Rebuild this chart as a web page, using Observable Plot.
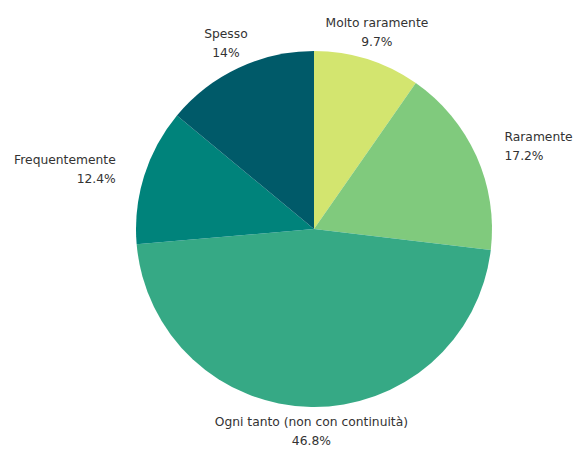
<!DOCTYPE html>
<html>
<head>
<meta charset="utf-8">
<script src="https://cdn.jsdelivr.net/npm/d3@7"></script>
<script src="https://cdn.jsdelivr.net/npm/@observablehq/plot@0.6"></script>
<style>
  html, body { margin: 0; padding: 0; background: #fff; }
</style>
</head>
<body>
<div id="chart"></div>
<script>
const categories = ["Molto raramente", "Raramente", "Ogni tanto (non con continuità)", "Frequentemente", "Spesso"];
const values = [9.7, 17.2, 46.8, 12.4, 14];
const colors = ["#d3e56f", "#80ca7d", "#36a985", "#00837b", "#005a69"];

const data = categories.map((c, i) => ({category: c, value: values[i]}));
const pie = d3.pie().value(d => d.value).sort(null)(data);
const labels = pie.map(p => {
  const a = (p.startAngle + p.endAngle) / 2;
  const s = Math.sin(a), c = Math.cos(a);
  const r = c < -0.5 ? 1.125 : 1.17;
  return {
    x: r * s,
    y: r * c,
    text: p.data.category + "\n" + p.data.value + "%",
    anchor: Math.abs(s) < 0.5 ? "middle" : (s > 0 ? "start" : "end")
  };
});

const color = Plot.scale({color: {type: "ordinal", domain: categories, range: colors}});

function pieMark(index, scales, values, dimensions, context) {
  const cx = scales.x(0), cy = scales.y(0);
  const r = scales.x(1) - scales.x(0);
  const arc = d3.arc().innerRadius(0).outerRadius(r);
  const g = d3.create("svg:g").attr("transform", `translate(${cx},${cy})`);
  g.selectAll("path").data(pie).join("path")
    .attr("d", arc)
    .attr("fill", d => color.apply(d.data.category));
  return g.node();
}

const textOpts = {x: "x", y: "y", text: "text", fontSize: 12.3, lineHeight: 1.55, fill: "#333"};

const chart = Plot.plot({
  width: 573,
  height: 449,
  margin: 0,
  style: {fontFamily: "'DejaVu Sans', sans-serif", background: "#fff"},
  x: {domain: [-314/178, 259/178], axis: null},
  y: {domain: [-220/178, 229/178], axis: null},
  marks: [
    pieMark,
    Plot.text(labels.filter(d => d.anchor === "middle"), {...textOpts, textAnchor: "middle"}),
    Plot.text(labels.filter(d => d.anchor === "start"), {...textOpts, textAnchor: "start"}),
    Plot.text(labels.filter(d => d.anchor === "end"), {...textOpts, textAnchor: "end"})
  ]
});
document.getElementById("chart").appendChild(chart);
</script>
</body>
</html>
